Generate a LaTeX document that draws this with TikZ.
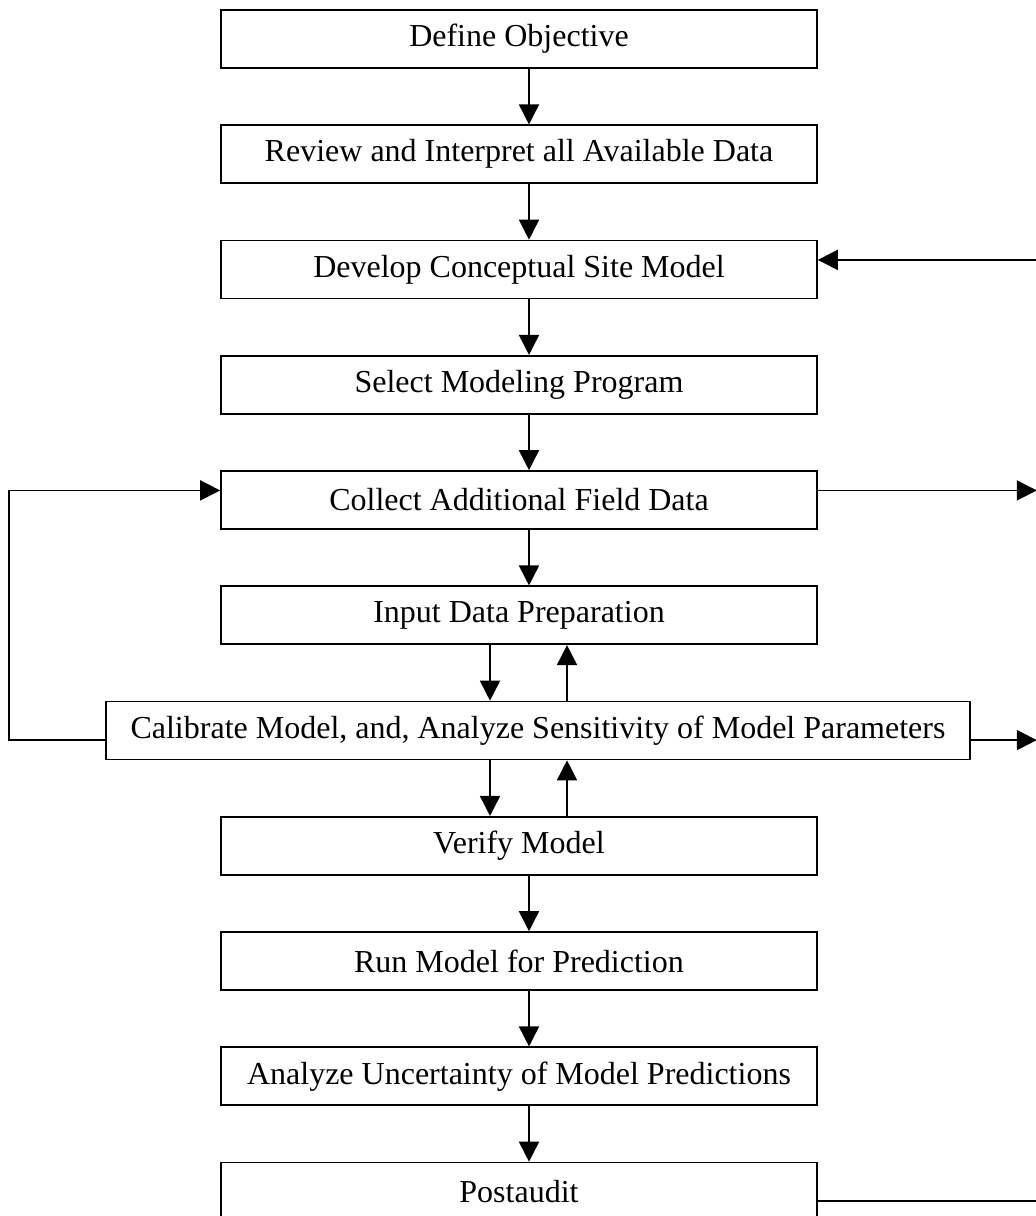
\documentclass[tikz,border=0pt]{standalone}
\usepackage{fontspec}
\setmainfont{Liberation Serif}
\usetikzlibrary{arrows.meta,calc}

\begin{document}
\begin{tikzpicture}[x=0.5pt, y=-0.5pt]
    \tikzstyle{box} = [draw, line width=0.8pt, minimum width=298pt, minimum height=29pt, inner sep=0pt, font=\fontsize{16}{19}\selectfont]
    \tikzstyle{arr} = [line width=0.8pt, -{Triangle[length=10pt, width=10pt]}]
    \useasboundingbox (0,0) rectangle (1036,1216);

    % Steps
    \node[box] (def) at (519,39) {Define Objective};
    \node[box] (rev) at (519,154.25) {Review and Interpret all Available Data};
    \node[box] (dev) at (519,269.5) {Develop Conceptual Site Model};
    \node[box] (sel) at (519,384.75) {Select Modeling Program};
    \node[box] (col) at (519,500) {Collect Additional Field Data};
    \node[box] (inp) at (519,615.25) {Input Data Preparation};
    \node[box, minimum width=432pt] (cal) at (538,730.5) {Calibrate Model, and, Analyze Sensitivity of Model Parameters};
    \node[box] (ver) at (519,845.75) {Verify Model};
    \node[box] (run) at (519,961) {Run Model for Prediction};
    \node[box] (ana) at (519,1076.25) {Analyze Uncertainty of Model Predictions};
    \node[box] (post) at (519,1191.5) {Postaudit};

    % Columns for the vertical arrows
    \coordinate (mid) at (529,0);
    \coordinate (dn) at (490,0);
    \coordinate (up) at (567,0);

    % Main flow
    \draw[arr] (mid |- def.south) -- (mid |- rev.north);
    \draw[arr] (mid |- rev.south) -- (mid |- dev.north);
    \draw[arr] (mid |- dev.south) -- (mid |- sel.north);
    \draw[arr] (mid |- sel.south) -- (mid |- col.north);
    \draw[arr] (mid |- col.south) -- (mid |- inp.north);
    \draw[arr] (dn |- inp.south) -- (dn |- cal.north);
    \draw[arr] (up |- cal.north) -- (up |- inp.south);
    \draw[arr] (dn |- cal.south) -- (dn |- ver.north);
    \draw[arr] (up |- ver.north) -- (up |- cal.south);
    \draw[arr] (mid |- ver.south) -- (mid |- run.north);
    \draw[arr] (mid |- run.south) -- (mid |- ana.north);
    \draw[arr] (mid |- ana.south) -- (mid |- post.north);

    % Feedback loops
    \draw[arr] ([yshift=-4.8pt]cal.west) -- ++(-96,0) |- ([yshift=4.8pt]col.west);
    \draw[arr] ([xshift=109.5pt, yshift=4.8pt]dev.east) -- ([yshift=4.8pt]dev.east);
    \draw[arr] ([yshift=4.8pt]col.east) -- ++(219,0);
    \draw[arr] ([yshift=-4.8pt]cal.east) -- ++(66,0);
    \draw[line width=0.8pt] ([yshift=-4.8pt]post.east) -- ++(219,0);
\end{tikzpicture}
\end{document}
